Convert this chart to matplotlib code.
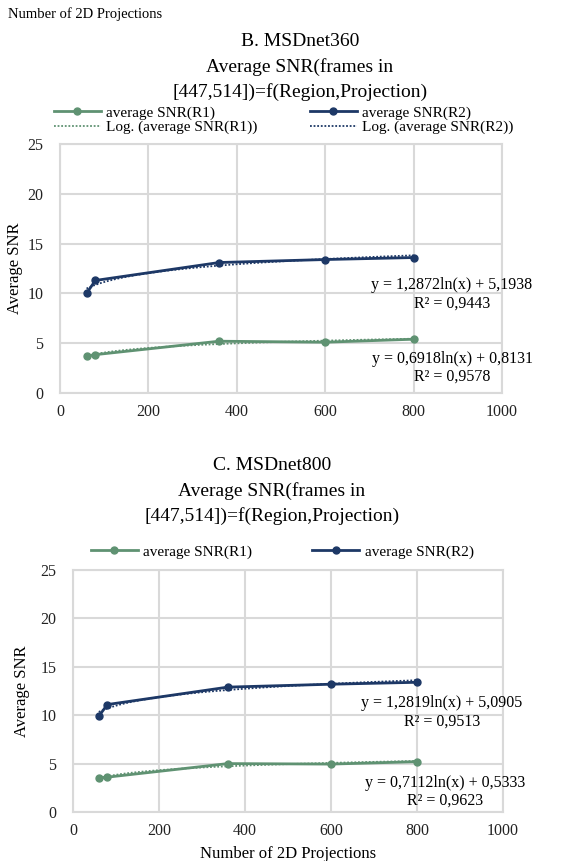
import numpy as np
import matplotlib
matplotlib.use('Agg')
import matplotlib.pyplot as plt
from matplotlib.lines import Line2D

plt.rcParams['font.family'] = ['Liberation Serif', 'DejaVu Serif']

# projections (x) and average SNR per region
projections = [60, 80, 360, 600, 800]
b_r1 = [3.7, 3.85, 5.2, 5.1, 5.4]
b_r2 = [10.0, 11.3, 13.1, 13.4, 13.6]
c_r1 = [3.5, 3.6, 5.0, 4.95, 5.2]
c_r2 = [9.9, 11.1, 12.9, 13.2, 13.4]

b_eq = ['y = 1,2872ln(x) + 5,1938\nR² = 0,9443', 'y = 0,6918ln(x) + 0,8131\nR² = 0,9578']
c_eq = ['y = 1,2819ln(x) + 5,0905\nR² = 0,9513', 'y = 0,7112ln(x) + 0,5333\nR² = 0,9623']

green = '#5f9272'
navy = '#1d3866'
grid = '#d9d9d9'

W, H = 567, 861
fig = plt.figure(figsize=(W / 100, H / 100), dpi=100)


def px_axes(l, t, r, b):
    return fig.add_axes([l / W, 1 - b / H, (r - l) / W, (b - t) / H])


def draw_panel(ax, r1, r2, eqs, eq_pos, ylab_x):
    x = np.array(projections)
    xs = np.linspace(x.min(), x.max(), 100)
    for y, c in [(r1, green), (r2, navy)]:
        # log trendline like excel
        k, b0 = np.polyfit(np.log(x), y, 1)
        ax.plot(xs, k * np.log(xs) + b0, ls=(0, (1, 1)), color=c, lw=1.3, zorder=3)
        ax.plot(x, y, '-o', color=c, lw=2, ms=5, zorder=4)
    ax.set_xlim(0, 1000)
    ax.set_ylim(0, 25)
    ax.set_xticks(range(0, 1001, 200))
    ax.set_yticks(range(0, 26, 5))
    ax.grid(True, color=grid, lw=1.5)
    ax.set_axisbelow(True)
    for s in ax.spines.values():
        s.set_color(grid)
        s.set_linewidth(1.5)
    ax.tick_params(length=0, labelsize=11.5, colors='#222222', pad=8)
    ax.tick_params(axis='y', pad=12)
    ax.set_ylabel('Average SNR', fontsize=12)
    ax.yaxis.set_label_coords(ylab_x, 0.5)
    for txt, (ex, ey) in zip(eqs, eq_pos):
        ax.text(ex, ey, txt, ha='center', va='center', fontsize=11.5,
                linespacing=1.15, zorder=5)


# panel B
axb = px_axes(60, 144, 502, 393)
draw_panel(axb, b_r1, b_r2, b_eq, [(887, 9.9), (887, 2.5)], -0.084)
fig.text(8 / W, 1 - 14 / H, 'Number of 2D Projections', fontsize=10.5, va='center')
for i, line in enumerate(['B. MSDnet360', 'Average SNR(frames in', '[447,514])=f(Region,Projection)']):
    fig.text(300 / W, 1 - (42 + 25 * i) / H, line, fontsize=14, ha='center', va='center')

h_b = [Line2D([], [], color=green, marker='o', ms=5, lw=2),
       Line2D([], [], color=green, ls=(0, (1, 1)), lw=1.3),
       Line2D([], [], color=navy, marker='o', ms=5, lw=2),
       Line2D([], [], color=navy, ls=(0, (1, 1)), lw=1.3)]
l_b = ['average SNR(R1)', 'Log. (average SNR(R1))', 'average SNR(R2)', 'Log. (average SNR(R2))']
fig.legend(h_b, l_b, ncol=2, loc='center left', bbox_to_anchor=(46 / W, 1 - 120 / H),
           frameon=False, fontsize=11, handlelength=3.1, handletextpad=0.35,
           columnspacing=3.4, labelspacing=0.05, borderpad=0)

# panel C
axc = px_axes(73, 570, 503, 812)
draw_panel(axc, c_r1, c_r2, c_eq, [(858, 10.3), (865, 2.1)], -0.1)
axc.set_xlabel('Number of 2D Projections', fontsize=12, labelpad=5)
for i, line in enumerate(['C. MSDnet800', 'Average SNR(frames in', '[447,514])=f(Region,Projection)']):
    fig.text(272 / W, 1 - (466 + 25 * i) / H, line, fontsize=14, ha='center', va='center')

h_c = [h_b[0], h_b[2]]
fig.legend(h_c, ['average SNR(R1)', 'average SNR(R2)'], ncol=2, loc='center left',
           bbox_to_anchor=(83 / W, 1 - 552 / H), frameon=False, fontsize=11,
           handlelength=3.1, handletextpad=0.35, columnspacing=3.9, borderpad=0)

fig.savefig('out.png', dpi=100)
